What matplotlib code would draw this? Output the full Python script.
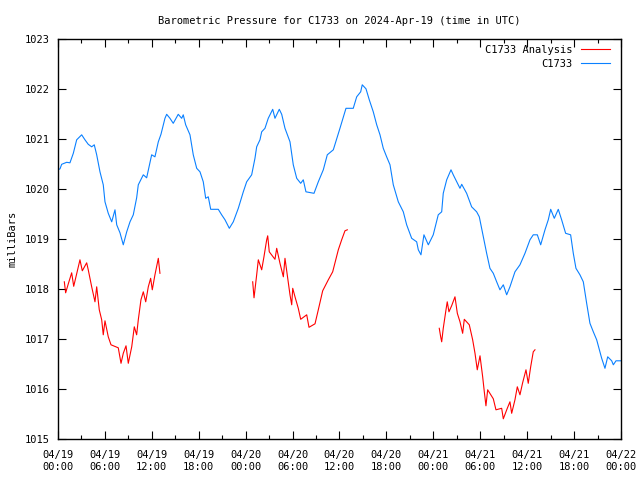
import numpy as np
import pandas as pd
import matplotlib
matplotlib.use("Agg")
import matplotlib.pyplot as plt
import matplotlib.dates as mdates

# hours after 2024-04-19 00:00 UTC, pressure in millibars
obs_hours = [0.0, 0.26, 0.47, 1.11, 1.53, 1.96, 2.39, 3.03, 3.45, 3.87, 4.31, 4.64, 4.95,
             5.37, 5.79, 6.01, 6.43, 6.87, 7.29, 7.51, 7.93, 8.35, 8.79, 9.21, 9.63, 10.06,
             10.27, 10.91, 11.34, 11.98, 12.40, 12.83, 13.17, 13.68, 13.90, 14.32, 14.74,
             15.38, 15.82, 16.02, 16.33, 16.88, 17.30, 17.74, 18.16, 18.58, 18.89, 19.22,
             19.53, 20.50, 20.93, 21.36, 21.91, 22.42, 23.06, 23.70, 24.13, 24.77, 25.19,
             25.41, 25.83, 26.05, 26.47, 26.89, 27.46, 27.75, 28.30, 28.61, 29.03, 29.67,
             30.09, 30.53, 31.04, 31.37, 31.71, 32.74, 33.29, 33.93, 34.44, 35.21, 36.06,
             36.83, 37.76, 38.20, 38.71, 38.91, 39.39, 39.81, 40.32, 40.76, 41.18, 41.60,
             42.03, 42.46, 42.88, 43.52, 44.16, 44.59, 45.23, 45.87, 46.08, 46.42, 46.80,
             47.36, 47.99, 48.63, 49.07, 49.27, 49.71, 50.26, 50.55, 50.99, 51.41, 51.63,
             52.26, 52.90, 53.54, 53.88, 54.39, 54.82, 55.24, 55.67, 56.10, 56.52, 56.95,
             57.38, 57.80, 58.44, 59.08, 59.72, 60.36, 60.78, 61.30, 61.73, 62.28, 62.70,
             63.01, 63.47, 63.98, 64.41, 64.92, 65.56, 65.90, 66.24, 66.75, 67.18, 67.61,
             68.03, 68.46, 68.89, 69.53, 69.95, 70.30, 70.81, 71.02, 71.36, 72.0]
obs_mb = [1020.39, 1020.41, 1020.50, 1020.54, 1020.53, 1020.72, 1020.99, 1021.09, 1020.99,
          1020.90, 1020.85, 1020.89, 1020.69, 1020.35, 1020.09, 1019.75, 1019.52, 1019.35,
          1019.59, 1019.29, 1019.13, 1018.89, 1019.15, 1019.35, 1019.49, 1019.83, 1020.09,
          1020.29, 1020.23, 1020.69, 1020.65, 1020.95, 1021.10, 1021.42, 1021.50, 1021.42,
          1021.32, 1021.50, 1021.42, 1021.49, 1021.29, 1021.09, 1020.69, 1020.42, 1020.35,
          1020.15, 1019.82, 1019.85, 1019.60, 1019.60, 1019.49, 1019.39, 1019.22, 1019.35,
          1019.62, 1019.95, 1020.15, 1020.29, 1020.62, 1020.85, 1020.99, 1021.15, 1021.22,
          1021.42, 1021.60, 1021.42, 1021.60, 1021.50, 1021.22, 1020.95, 1020.49, 1020.22,
          1020.12, 1020.19, 1019.95, 1019.92, 1020.15, 1020.39, 1020.69, 1020.79, 1021.22,
          1021.62, 1021.62, 1021.85, 1021.95, 1022.09, 1022.01, 1021.79, 1021.55, 1021.29,
          1021.09, 1020.82, 1020.65, 1020.49, 1020.09, 1019.75, 1019.55, 1019.29, 1019.02,
          1018.95, 1018.79, 1018.69, 1019.09, 1018.89, 1019.09, 1019.49, 1019.55, 1019.92,
          1020.19, 1020.39, 1020.29, 1020.15, 1020.02, 1020.10, 1019.92, 1019.65, 1019.55,
          1019.45, 1019.05, 1018.72, 1018.42, 1018.32, 1018.15, 1017.99, 1018.09, 1017.89,
          1018.05, 1018.35, 1018.49, 1018.72, 1018.99, 1019.09, 1019.09, 1018.89, 1019.19,
          1019.39, 1019.60, 1019.42, 1019.60, 1019.39, 1019.12, 1019.09, 1018.72, 1018.42,
          1018.29, 1018.15, 1017.72, 1017.32, 1017.15, 1016.99, 1016.62, 1016.42, 1016.65,
          1016.57, 1016.49, 1016.57, 1016.57]

# analysis runs, nan separates the three runs
ana_hours = [0.81, 0.98, 1.32, 1.75, 2.01, 2.39, 2.81, 3.11, 3.67, 3.87, 4.31, 4.73, 4.95,
             5.28, 5.59, 5.79, 6.01, 6.43, 6.78, 7.71, 8.06, 8.35, 8.70, 8.99, 9.43, 9.76,
             10.06, 10.27, 10.61, 10.91, 11.22, 11.55, 11.85, 12.06, 12.40, 12.83, 13.04,
             np.nan,
             24.90, 25.07, 25.41, 25.62, 26.05, 26.34, 26.69, 26.82, 27.02, 27.75, 27.97,
             28.39, 28.82, 29.03, 29.38, 29.67, 29.89, 30.02, 30.31, 30.73, 31.04, 31.81,
             32.10, 32.87, 33.29, 33.85, 34.57, 35.13, 35.85, 36.28, 36.70, 37.00,
             np.nan,
             48.76, 48.94, 49.07, 49.27, 49.62, 49.78, 50.00, 50.34, 50.77, 51.07, 51.41,
             51.75, 51.96, 52.60, 53.03, 53.33, 53.62, 53.97, 54.31, 54.52, 54.73, 54.95,
             55.67, 56.01, 56.74, 56.95, 57.46, 57.80, 58.02, 58.44, 58.74, 59.08, 59.42,
             59.85, 60.14, 60.45, 60.78, 61.00]
ana_mb = [1018.15, 1017.93, 1018.11, 1018.33, 1018.06, 1018.31, 1018.59, 1018.37, 1018.53,
          1018.39, 1018.05, 1017.75, 1018.05, 1017.59, 1017.39, 1017.09, 1017.37, 1017.05,
          1016.89, 1016.83, 1016.52, 1016.72, 1016.87, 1016.52, 1016.85, 1017.25, 1017.09,
          1017.39, 1017.79, 1017.95, 1017.75, 1018.05, 1018.22, 1017.99, 1018.29, 1018.62,
          1018.32,
          np.nan,
          1018.15, 1017.83, 1018.29, 1018.59, 1018.39, 1018.65, 1018.99, 1019.07, 1018.75,
          1018.60, 1018.82, 1018.52, 1018.25, 1018.62, 1018.22, 1017.89, 1017.69, 1018.02,
          1017.85, 1017.62, 1017.40, 1017.49, 1017.24, 1017.31, 1017.59, 1017.97, 1018.19,
          1018.35, 1018.79, 1018.99, 1019.17, 1019.19,
          np.nan,
          1017.22, 1017.05, 1016.95, 1017.22, 1017.59, 1017.75, 1017.55, 1017.67, 1017.85,
          1017.52, 1017.35, 1017.12, 1017.40, 1017.29, 1016.99, 1016.72, 1016.39, 1016.67,
          1016.25, 1015.95, 1015.67, 1015.99, 1015.81, 1015.59, 1015.62, 1015.41, 1015.62,
          1015.75, 1015.52, 1015.79, 1016.05, 1015.89, 1016.13, 1016.39, 1016.12, 1016.45,
          1016.75, 1016.79]

start = pd.Timestamp("2024-04-19 00:00")
t_obs = start + pd.to_timedelta(obs_hours, unit="h")
t_ana = start + pd.to_timedelta(ana_hours, unit="h")

plt.rcParams["font.family"] = ["DejaVu Sans Mono"]
plt.rcParams["font.size"] = 7.5

fig = plt.figure(figsize=(6.4, 4.8), dpi=100)
ax = fig.add_axes([0.0906, 0.0848, 0.8797, 0.8333])

ax.plot(t_ana, ana_mb, color="#ff0000", lw=0.8, label="C1733 Analysis")
ax.plot(t_obs, obs_mb, color="#0a80ff", lw=0.8, label="C1733")

ax.set_xlim(start, start + pd.Timedelta(hours=72))
ax.set_ylim(1015, 1023)
ax.set_yticks(range(1015, 1024))

ax.xaxis.set_major_locator(mdates.HourLocator(byhour=[0, 6, 12, 18]))
ax.xaxis.set_minor_locator(mdates.HourLocator(byhour=[3, 9, 15, 21]))
ax.xaxis.set_major_formatter(mdates.DateFormatter("%m/%d\n%H:%M"))

ax.tick_params(which="both", direction="in", top=True, right=True, colors="black")
ax.tick_params(which="major", length=6, width=0.8, pad=6)
ax.tick_params(axis="x", which="major", pad=8)
ax.tick_params(which="minor", length=3, width=0.8)
for s in ax.spines.values():
    s.set_linewidth(1.0)

ax.set_title("Barometric Pressure for C1733 on 2024-Apr-19 (time in UTC)", fontsize=7.5, pad=11)
ax.set_ylabel("milliBars", labelpad=5)

ax.legend(loc="upper right", frameon=False, markerfirst=False, handlelength=2.8,
          labelspacing=0.4, borderaxespad=0.2, handletextpad=0.8, fontsize=7.5,
          bbox_to_anchor=(0.992, 1.002))

fig.savefig("out.png", dpi=100)
